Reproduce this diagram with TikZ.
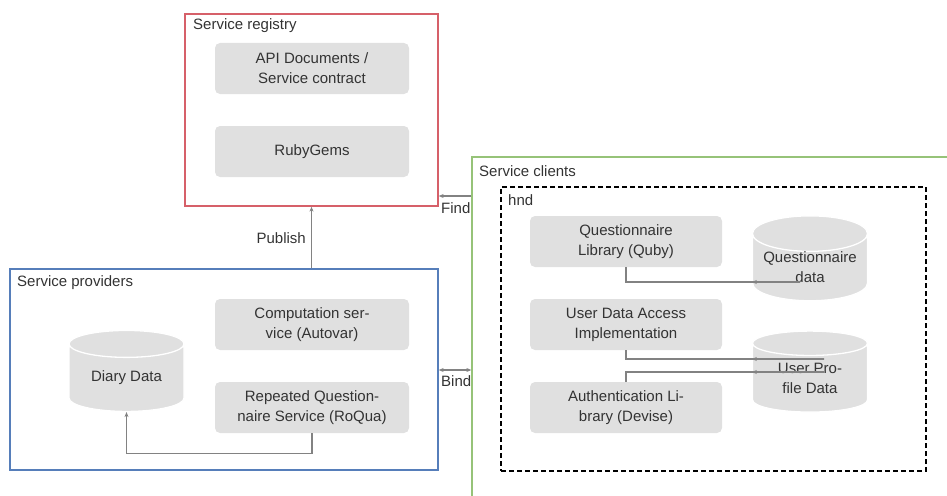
\documentclass[tikz,border=0pt]{standalone}
\usepackage{fontspec}
\setmainfont{Liberation Sans}
\usetikzlibrary{shapes.geometric}
\usetikzlibrary{arrows.meta}

\definecolor{regred}{RGB}{214,96,105}
\definecolor{provblue}{RGB}{86,126,186}
\definecolor{clientgreen}{RGB}{150,195,120}
\definecolor{boxgray}{RGB}{224,224,224}
\definecolor{txtgray}{RGB}{51,51,51}
\definecolor{linegray}{RGB}{130,130,130}

\begin{document}
\begin{tikzpicture}[
            x=1pt, y=-1pt,
            every node/.style={font=\fontsize{15}{20}\selectfont, text=txtgray},
            group/.style={draw, line width=1.3pt, inner sep=0pt},
            grouplabel/.style={anchor=west, inner sep=2pt},
            comp/.style={rectangle, rounded corners=5pt, fill=boxgray, align=center, minimum width=194pt, minimum height=51pt, inner sep=0pt},
            store/.style={cylinder, shape border rotate=90, aspect=0.38, fill=boxgray, draw=white, line width=1.3pt, align=center, minimum width=115pt, minimum height=81pt, inner sep=0pt},
            conn/.style={draw=linegray, line width=1.2pt, -{Stealth[length=5pt,width=4pt]}},
            ]
            \clip (0,0) rectangle (947,495);
            \useasboundingbox (0,0) rectangle (947,495);

            % groups
            \node[group, draw=regred, minimum width=253pt, minimum height=192pt] (registry) at (311.5,110) {};
            \node[grouplabel] at (191,26) {Service registry};
            \node[group, draw=provblue, minimum width=428pt, minimum height=201pt] (providers) at (224,369.5) {};
            \node[grouplabel] at (15,283) {Service providers};
            \node[group, draw=clientgreen, minimum width=500pt, minimum height=360pt] (clients) at (722,337) {};
            \node[grouplabel] at (477,171) {Service clients};
            \node[group, draw=black, dash pattern=on 5pt off 3pt, minimum width=425pt, minimum height=284pt] (hnd) at (713.5,329) {};
            \node[grouplabel] at (506,200) {hnd};

            % registry
            \node[comp] (api) at (312,68.5) {API Documents /\\Service contract};
            \node[comp] (gems) at (312,151.5) {RubyGems};

            % providers
            \node[comp] (autovar) at (312,324.5) {Computation ser-\\vice (Autovar)};
            \node[comp] (roqua) at (312,407.5) {Repeated Question-\\naire Service (RoQua)};
            \node[store] (diary) at (126.5,378) {Diary Data};

            % clients
            \node[comp, minimum width=192pt] (quby) at (626,241.5) {Questionnaire\\Library (Quby)};
            \node[comp, minimum width=192pt] (uda) at (626,324.5) {User Data Access\\Implementation};
            \node[comp, minimum width=192pt] (devise) at (626,407.5) {Authentication Li-\\brary (Devise)};
            \node[store] (qdata) at (810,267.5) {Questionnaire\\data};
            \node[store] (updata) at (810,378) {User Pro-\\file Data};

            % connectors
            \draw[conn] (providers.north -| registry.south) -- (registry.south);
            \node[anchor=east, inner sep=2pt] at (308,238) {Publish};
            \draw[conn] (clients.west |- 0,196) -- (registry.east |- 0,196);
            \node[anchor=west, inner sep=2pt] at (439,208) {Find};
            \draw[conn, {Stealth[length=5pt,width=4pt]}-{Stealth[length=5pt,width=4pt]}] (providers.east |- 0,370) -- (clients.west |- 0,370);
            \node[anchor=west, inner sep=2pt] at (439,381) {Bind};

            \draw[conn] (roqua.south) -- ++(0,20) -| (diary.south);

            \coordinate (qturn) at (800,282);
            \coordinate (uturn) at (824,359);
            \coordinate (aturn) at (824,372);
            \draw[conn] (quby.south) |- (qturn) -- (qdata.west |- qturn);
            \draw[conn] (uda.south) |- (uturn) -- (updata.west |- uturn);
            \draw[conn] (devise.north) |- (aturn) -- (updata.west |- aturn);
        \end{tikzpicture}
\end{document}
